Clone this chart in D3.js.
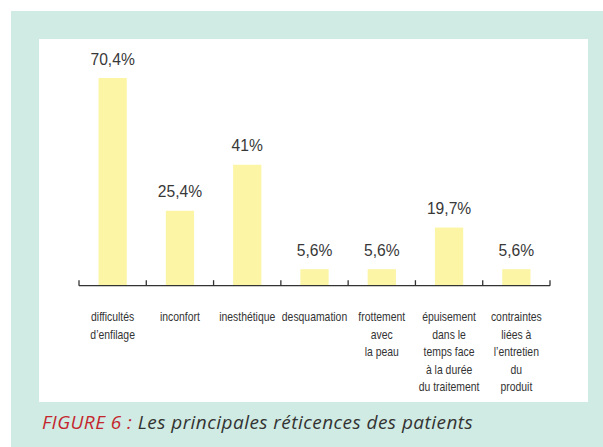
<!DOCTYPE html>
<html>
<head>
<meta charset="utf-8">
<script src="https://cdn.jsdelivr.net/npm/d3@7"></script>
<style>
  body { margin: 0; background: #fff; }
  svg { display: block; }
</style>
</head>
<body>
<div id="chart"></div>
<script>
// data
let categories = ["difficultes", "inconfort", "inesthetique", "desquamation", "frottement", "epuisement", "contraintes"];
let labelLines = [
    ["difficultés", "d’enfilage"],
    ["inconfort"],
    ["inesthétique"],
    ["desquamation"],
    ["frottement", "avec", "la peau"],
    ["épuisement", "dans le", "temps face", "à la durée", "du traitement"],
    ["contraintes", "liées à", "l’entretien", "du", "produit"]
];
let values = [70.4, 25.4, 41, 5.6, 5.6, 19.7, 5.6];
let valueLabels = ["70,4%", "25,4%", "41%", "5,6%", "5,6%", "19,7%", "5,6%"];

let width = 603, height = 447;

let svg = d3.select("#chart")
    .append("svg")
    .attr("width", width)
    .attr("height", height);

// mint frame + white panel
svg.append("rect").attr("x", 11).attr("y", 11).attr("width", width - 11).attr("height", height - 11)
    .attr("fill", "#d0ebe3");
svg.append("rect").attr("x", 39).attr("y", 39).attr("width", 549).attr("height", 363)
    .attr("fill", "#ffffff");

let xScale = d3.scaleBand()
    .domain(categories)
    .range([79, 550])
    .paddingInner(0.58)
    .paddingOuter(0.29);

let yScale = d3.scaleLinear()
    .domain([0, 70.4])
    .range([285.7, 78]);

let data = categories.map((c, i) => ({ cat: c, value: values[i], label: valueLabels[i], lines: labelLines[i] }));

// bars
svg.selectAll("rect.bar")
    .data(data)
    .enter()
    .append("rect")
    .attr("class", "bar")
    .attr("x", d => xScale(d.cat))
    .attr("y", d => yScale(d.value))
    .attr("width", xScale.bandwidth())
    .attr("height", d => yScale(0) - yScale(d.value))
    .attr("fill", "#fcf5a6");

// value labels (slightly condensed like the original)
svg.selectAll("text.val")
    .data(data)
    .enter()
    .append("text")
    .attr("class", "val")
    .attr("transform", d => "translate(" + (xScale(d.cat) + xScale.bandwidth() / 2) + "," + (yScale(d.value) - 13.5) + ") scale(0.92,1)")
    .attr("text-anchor", "middle")
    .style("font-family", "'Liberation Sans', Arial, sans-serif")
    .style("font-size", "17px")
    .style("fill", "#383838")
    .text(d => d.label);

// baseline with ticks at band boundaries
let step = xScale.step();
let x0 = xScale.range()[0], x1 = xScale.range()[1];
let base = yScale(0);
svg.append("line")
    .attr("x1", x0).attr("x2", x1)
    .attr("y1", base).attr("y2", base)
    .style("stroke", "#333333").style("stroke-width", 1.3);
d3.range(categories.length + 1).forEach(i => {
    svg.append("line")
        .attr("x1", x0 + i * step).attr("x2", x0 + i * step)
        .attr("y1", base).attr("y2", base - 5.5)
        .style("stroke", "#333333").style("stroke-width", 1.3);
});

// category labels, multi-line, narrow face faked with a horizontal squeeze
let cat = svg.selectAll("text.cat")
    .data(data)
    .enter()
    .append("text")
    .attr("class", "cat")
    .attr("transform", d => "translate(" + (xScale(d.cat) + xScale.bandwidth() / 2) + ",0) scale(0.82,1)")
    .attr("text-anchor", "middle")
    .style("font-family", "'Liberation Sans', Arial, sans-serif")
    .style("font-size", "12.7px")
    .style("fill", "#333333");
cat.selectAll("tspan")
    .data(d => d.lines)
    .enter()
    .append("tspan")
    .attr("x", 0)
    .attr("y", (d, i) => 321.5 + i * 17.4)
    .text(d => d);

// caption
let cap = svg.append("text")
    .attr("x", 42)
    .attr("y", 429)
    .style("font-family", "'Open Sans', Lato, sans-serif")
    .style("font-style", "italic")
    .style("font-size", "19px")
    .style("letter-spacing", "0.45px");
cap.append("tspan").style("fill", "#c4262e").text("FIGURE 6 : ");
cap.append("tspan").style("fill", "#333333").text("Les principales réticences des patients");
</script>
</body>
</html>
